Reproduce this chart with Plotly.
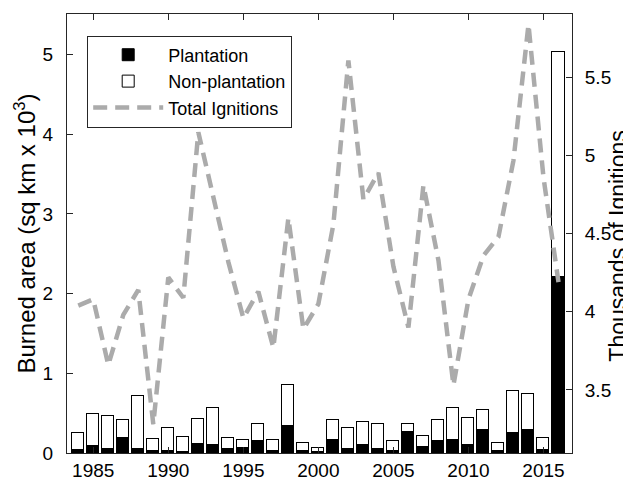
import plotly.graph_objects as go

years = list(range(1984, 2017))

plantation = [0.04, 0.085, 0.055, 0.19, 0.055, 0.03, 0.02, 0.01, 0.11, 0.10,
              0.055, 0.065, 0.15, 0.03, 0.34, 0.03, 0.01, 0.16, 0.05, 0.10,
              0.05, 0.02, 0.26, 0.07, 0.15, 0.16, 0.105, 0.285, 0.02, 0.245,
              0.285, 0.04, 2.215]

non_plantation = [0.21, 0.41, 0.405, 0.23, 0.655, 0.14, 0.29, 0.19, 0.32, 0.47,
                  0.135, 0.095, 0.21, 0.13, 0.51, 0.10, 0.057, 0.26, 0.27, 0.29,
                  0.31, 0.13, 0.11, 0.14, 0.26, 0.40, 0.335, 0.255, 0.105, 0.53,
                  0.455, 0.15, 2.815]

ignitions = [4.04, 4.08, 3.66, 3.98, 4.14, 3.28, 4.22, 4.09, 5.15, 4.75,
             4.32, 3.96, 4.13, 3.77, 4.60, 3.89, 4.05, 4.56, 5.61, 4.72,
             4.89, 4.29, 3.90, 4.81, 4.33, 3.53, 4.08, 4.36, 4.48, 4.97,
             5.84, 4.86, 4.19]

x_ticks = [1985, 1990, 1995, 2000, 2005, 2010, 2015]
left_ticks = [0, 1, 2, 3, 4, 5]
right_ticks = [3.5, 4, 4.5, 5, 5.5]
right_tick_text = ["3.5", "4", "4.5", "5", "5.5"]

left_title = "Burned area (sq km x 10<sup>3</sup>)"
right_title = "Thousands of Ignitions"

FONT = "Liberation Sans, Arial, Helvetica, sans-serif"
AXC = "#262626"

fig = go.Figure()
fig.add_trace(go.Bar(
    x=years, y=plantation, name="Plantation", width=0.8,
    marker=dict(color="black", line=dict(color="black", width=1)),
))
fig.add_trace(go.Bar(
    x=years, y=non_plantation, name="Non-plantation", width=0.8,
    marker=dict(color="white", line=dict(color="black", width=1)),
))
fig.add_trace(go.Scatter(
    x=years, y=ignitions, name="Total Ignitions", yaxis="y2", mode="lines",
    line=dict(color="#ababab", width=4.5, dash="14px,8px"),
))

# the page body adds an 8px offset, so margins are compensated
fig.update_layout(
    width=631, height=482,
    margin=dict(l=59, r=67, t=6, b=37, autoexpand=False),
    paper_bgcolor="white", plot_bgcolor="white",
    barmode="stack", bargap=0,
    font=dict(family=FONT, size=19, color="black"),
    showlegend=True,
    legend=dict(
        x=0.04, y=0.951, xanchor="left", yanchor="top",
        bordercolor=AXC, borderwidth=1, bgcolor="white",
        font=dict(size=18, family=FONT), itemwidth=70,
        tracegroupgap=0, traceorder="normal",
    ),
    xaxis=dict(
        range=[1983.25, 2016.9], tickvals=x_ticks, ticktext=[str(v) for v in x_ticks],
        ticks="inside", ticklen=6, tickcolor=AXC, showline=True, linecolor=AXC,
        linewidth=1, mirror="ticks", showgrid=False, zeroline=False,
        tickfont=dict(size=19), automargin=False,
    ),
    yaxis=dict(
        range=[0, 5.51], tickvals=left_ticks, ticks="inside", ticklen=6,
        tickcolor=AXC, showline=True, linecolor=AXC, linewidth=1,
        showgrid=False, zeroline=False, tickfont=dict(size=19),
        ticklabelstandoff=9, automargin=False,
        title=dict(text=left_title, font=dict(size=24), standoff=0),
    ),
    yaxis2=dict(
        range=[3.096, 5.907], tickvals=right_ticks, ticktext=right_tick_text,
        overlaying="y", side="right", ticks="inside", ticklen=6, tickcolor=AXC,
        showline=True, linecolor=AXC, linewidth=1, showgrid=False, zeroline=False,
        tickfont=dict(size=19), ticklabelstandoff=8, automargin=False,
    ),
    annotations=[dict(
        text=right_title, xref="paper", yref="paper", x=1, y=0.47,
        xanchor="center", yanchor="middle", xshift=46, textangle=-90,
        showarrow=False, font=dict(size=23, family=FONT, color="black"),
    )],
)

fig.write_html("out.html")
